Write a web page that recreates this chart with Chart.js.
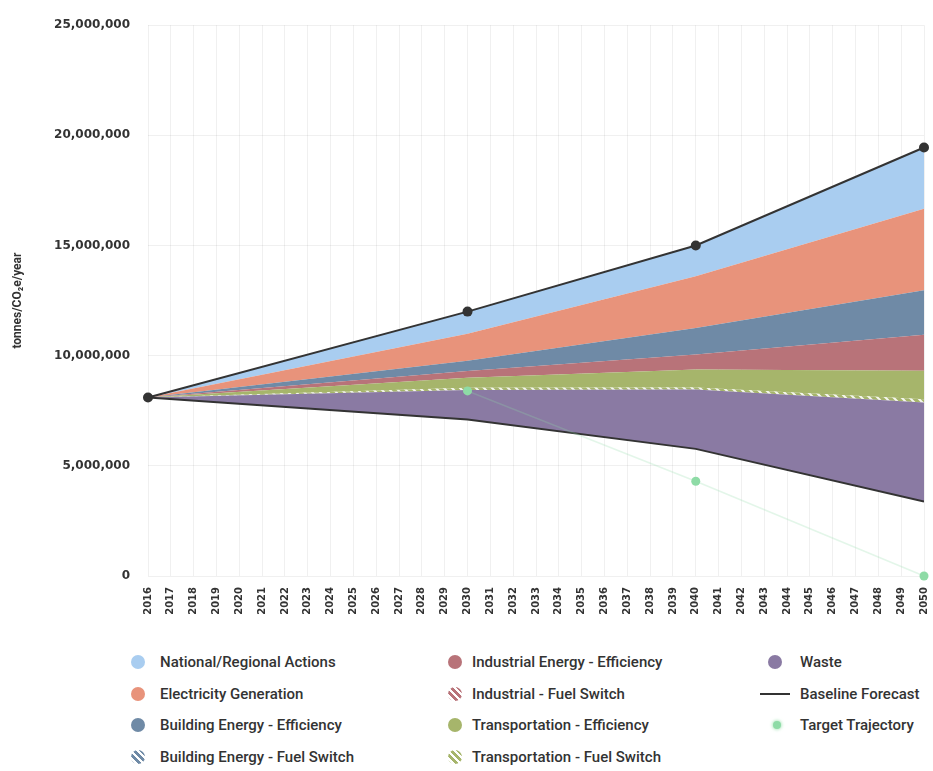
<!DOCTYPE html>
<html>
<head>
<meta charset="utf-8">
<script src="https://cdn.jsdelivr.net/npm/chart.js@4.4.1/dist/chart.umd.min.js"></script>
<style>
    body { margin: 0; background: #fff; font-family: Roboto, 'Noto Sans', sans-serif; }
    #wrap { position: relative; width: 933px; height: 771px; }
    #chart-box { position: absolute; left: 0; top: 0; width: 933px; height: 645px; }
    .leyenda-col { position: absolute; top: 646px; }
    .item { display: flex; align-items: center; height: 31.7px; font-size: 15px; font-weight: 500; color: #333; white-space: nowrap; }
    .sw { flex: none; display: flex; align-items: center; }
    .dot { width: 14px; height: 14px; border-radius: 50%; }
    .linea { width: 30px; height: 2px; background: #333; }
    .mini { width: 8px; height: 8px; border-radius: 50%; box-shadow: 0 0 3px 1px rgba(140,220,160,0.6); }
</style>
</head>
<body>
<div id="wrap">
    <div id="chart-box"><canvas id="emisiones"></canvas></div>
    <div id="leyenda"></div>
</div>
<script>
// Años con valores conocidos (el resto se une con rectas)
const years = [2016, 2030, 2040, 2050];

// Pronóstico base (toneladas CO2e/año)
const baseline = [8100000, 12000000, 15000000, 19450000];
// Emisiones restantes tras todas las acciones (borde inferior)
const remaining = [8100000, 7100000, 5770000, 3380000];

// Reducciones por sector, de abajo hacia arriba
const waste = [0, 1340000, 2690000, 4490000];
const transportFuel = [0, 110000, 100000, 150000];
const transportEff = [0, 450000, 810000, 1300000];
const industrialFuel = [0, 0, 0, 0];
const industrialEff = [0, 300000, 680000, 1630000];
const buildingFuel = [0, 0, 0, 0];
const buildingEff = [0, 470000, 1210000, 2020000];
const electricity = [0, 1230000, 2340000, 3700000];
const national = [0, 1000000, 1400000, 2780000];

// Trayectoria objetivo
const targetYears = [2030, 2040, 2050];
const target = [8400000, 4300000, 0];

// Ejes
const yTicks = [0, 5000000, 10000000, 15000000, 20000000, 25000000];
const firstYear = 2016;
const lastYear = 2050;

const colores = {
    national: '#a9cdf0',
    electricity: '#e8937b',
    buildingEff: '#6f8aa6',
    industrialEff: '#b87379',
    transportEff: '#a6b56b',
    waste: '#8a7aa3',
    baseline: '#333333',
    target: '#8edba6'
};

// Relleno rayado para las series "Fuel Switch"
function rayas(color) {
    const c = document.createElement('canvas');
    c.width = 8; c.height = 8;
    const g = c.getContext('2d');
    g.fillStyle = color;
    g.fillRect(0, 0, 8, 8);
    g.strokeStyle = 'rgba(255,255,255,0.9)';
    g.lineWidth = 2;
    g.beginPath();
    g.moveTo(0, 0); g.lineTo(8, 8);
    g.moveTo(-2, 6); g.lineTo(2, 10);
    g.moveTo(6, -2); g.lineTo(10, 2);
    g.stroke();
    return g.createPattern(c, 'repeat');
}

function puntos(xs, ys) {
    return xs.map((x, i) => ({ x: x, y: ys[i] }));
}

function capa(label, valores, fondo) {
    return {
        label: label,
        data: puntos(years, valores),
        stack: 'acciones',
        fill: '-1',
        backgroundColor: fondo,
        borderWidth: 0,
        pointRadius: 0
    };
}

const datasets = [
    {
        label: 'Remaining',
        data: puntos(years, remaining),
        stack: 'acciones',
        fill: false,
        borderColor: '#333',
        borderWidth: 2,
        pointRadius: 0
    },
    capa('Waste', waste, colores.waste),
    capa('Transportation - Fuel Switch', transportFuel, rayas(colores.transportEff)),
    capa('Transportation - Efficiency', transportEff, colores.transportEff),
    capa('Industrial - Fuel Switch', industrialFuel, rayas(colores.industrialEff)),
    capa('Industrial Energy - Efficiency', industrialEff, colores.industrialEff),
    capa('Building Energy - Fuel Switch', buildingFuel, rayas(colores.buildingEff)),
    capa('Building Energy - Efficiency', buildingEff, colores.buildingEff),
    capa('Electricity Generation', electricity, colores.electricity),
    capa('National/Regional Actions', national, colores.national),
    {
        label: 'Baseline Forecast',
        data: puntos(years, baseline),
        stack: 'base',
        order: -1,
        fill: false,
        clip: false,
        borderColor: colores.baseline,
        borderWidth: 2,
        pointRadius: 5,
        pointBackgroundColor: colores.baseline,
        pointBorderWidth: 0
    },
    {
        label: 'Target Trajectory',
        data: puntos(targetYears, target),
        stack: 'objetivo',
        order: -2,
        fill: false,
        clip: false,
        borderColor: 'rgba(142,219,166,0.25)',
        borderWidth: 1.5,
        pointRadius: 4.5,
        pointBackgroundColor: colores.target,
        pointBorderWidth: 0
    }
];

const chart = new Chart(document.getElementById('emisiones'), {
    type: 'line',
    data: { datasets: datasets },
    options: {
        responsive: true,
        maintainAspectRatio: false,
        animation: false,
        layout: { padding: { top: 18, right: 9, left: 0, bottom: 0 } },
        plugins: {
            legend: { display: false },
            tooltip: { enabled: false }
        },
        scales: {
            x: {
                type: 'linear',
                min: firstYear,
                max: lastYear,
                grid: { color: 'rgba(0,0,0,0.06)', drawTicks: false },
                border: { display: false },
                ticks: {
                    stepSize: 1,
                    autoSkip: false,
                    maxRotation: 90,
                    minRotation: 90,
                    padding: 11,
                    color: '#333',
                    font: { family: 'DejaVu Sans', weight: 'bold', size: 10 },
                    callback: v => String(v)
                },
                afterFit: scale => {
                    scale.height = 69;
                    scale.paddingLeft = 0;
                    scale.paddingRight = 0;
                }
            },
            y: {
                stacked: true,
                min: 0,
                max: 25000000,
                afterBuildTicks: scale => { scale.ticks = yTicks.map(v => ({ value: v })); },
                grid: { color: 'rgba(0,0,0,0.06)', drawTicks: false },
                border: { display: false },
                ticks: {
                    padding: 18,
                    color: '#333',
                    font: { family: 'DejaVu Sans', weight: 'bold', size: 12 },
                    callback: v => v.toLocaleString('en-US')
                },
                title: {
                    display: true,
                    text: 'tonnes/CO₂e/year',
                    color: '#333',
                    padding: { top: 11, bottom: 0 },
                    font: { family: 'Roboto', weight: 'bold', size: 12 }
                },
                afterFit: scale => { scale.width = 148; }
            }
        }
    }
});

// Leyenda en tres columnas (orden por columnas como en el original)
function rayasCss(color) {
    return `repeating-linear-gradient(45deg, ${color} 0 3px, #fff 3px 5px)`;
}

const columnas = [
    { left: 131, ancho: 29, items: [
        ['National/Regional Actions', 'dot', colores.national],
        ['Electricity Generation', 'dot', colores.electricity],
        ['Building Energy - Efficiency', 'dot', colores.buildingEff],
        ['Building Energy - Fuel Switch', 'dot', rayasCss(colores.buildingEff)]
    ]},
    { left: 448, ancho: 24, items: [
        ['Industrial Energy - Efficiency', 'dot', colores.industrialEff],
        ['Industrial - Fuel Switch', 'dot', rayasCss(colores.industrialEff)],
        ['Transportation - Efficiency', 'dot', colores.transportEff],
        ['Transportation - Fuel Switch', 'dot', rayasCss(colores.transportEff)]
    ]},
    { left: 760, ancho: 40, items: [
        ['Waste', 'dot', colores.waste],
        ['Baseline Forecast', 'linea', colores.baseline],
        ['Target Trajectory', 'mini', colores.target]
    ]}
];

const leyenda = document.getElementById('leyenda');
leyenda.innerHTML = columnas.map(col => `
    <div class="leyenda-col" style="left:${col.left}px;">
        ${col.items.map(([texto, tipo, fondo]) => {
            const sangria = (col.ancho === 40 && tipo !== 'linea') ? (tipo === 'mini' ? 13 : 8) : 0;
            return `<div class="item">
                <span class="sw" style="width:${col.ancho - sangria}px; padding-left:${sangria}px;">
                    <span class="${tipo}" style="background:${fondo};"></span>
                </span>${texto}
            </div>`;
        }).join('')}
    </div>
`).join('');
</script>
</body>
</html>
